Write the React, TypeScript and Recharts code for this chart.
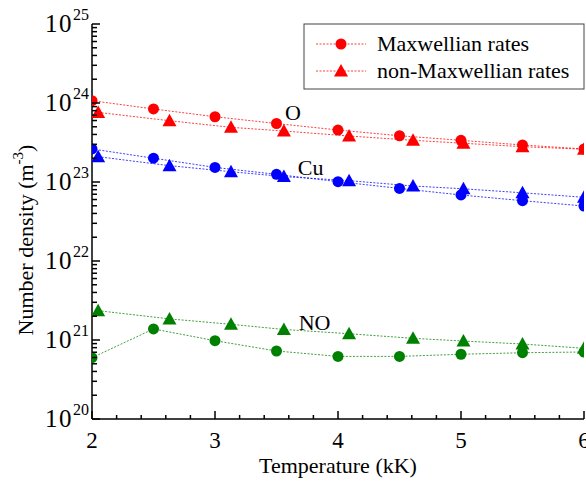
import React from 'react';
import { LineChart, Line, XAxis, YAxis, ReferenceDot } from 'recharts';

const tempsMax = [2, 2.5, 3, 3.5, 4, 4.5, 5, 5.5, 6];
const tempsNon = [2.05, 2.63, 3.13, 3.56, 4.09, 4.61, 5.02, 5.5, 6];

const oMax = [1.07e24, 8.4e23, 6.7e23, 5.5e23, 4.55e23, 3.85e23, 3.37e23, 2.94e23, 2.62e23];
const oNon = [7.6e23, 5.97e23, 4.92e23, 4.42e23, 3.82e23, 3.37e23, 3.09e23, 2.8e23, 2.6e23];
const cuMax = [2.62e23, 2.0e23, 1.53e23, 1.25e23, 1.01e23, 8.3e22, 6.85e22, 5.8e22, 4.97e22];
const cuNon = [2.09e23, 1.61e23, 1.35e23, 1.17e23, 1.04e23, 8.9e22, 8.2e22, 7.3e22, 6.4e22];
const noMax = [5.97e20, 1.38e21, 9.8e20, 7.26e20, 6.2e20, 6.2e20, 6.6e20, 6.9e20, 7.05e20];
const noNon = [2.35e21, 1.85e21, 1.58e21, 1.36e21, 1.2e21, 1.05e21, 9.7e20, 8.9e20, 7.85e20];

const xTicks = [2, 2.2, 2.4, 2.6, 2.8, 3, 3.2, 3.4, 3.6, 3.8, 4, 4.2, 4.4, 4.6, 4.8, 5, 5.2, 5.4, 5.6, 5.8, 6];
const yDecades = [20, 21, 22, 23, 24];
const yMantissas = [1, 2, 3, 4, 5, 6, 7, 8, 9];
const yTicks: number[] = [];
yDecades.forEach((d) => yMantissas.forEach((m) => yTicks.push(m * Math.pow(10, d))));
yTicks.push(1e25);

const legendLabels = ['Maxwellian rates', 'non-Maxwellian rates'];
const speciesLabels = [
  { text: 'O', t: 3.634, v: 7.7e23 },
  { text: 'Cu', t: 3.778, v: 1.55e23 },
  { text: 'NO', t: 3.81, v: 1.69e21 },
];

const build = (ts: number[], vs: number[]) => ts.map((t, i) => ({ t, v: vs[i] }));

const FONT = "'Liberation Serif', 'Times New Roman', serif";
const RED = '#ff0000';
const BLUE = '#0000ff';
const GREEN = '#008000';

const isMajorX = (v: number) => Math.abs(v - Math.round(v)) < 1e-6;
const isMajorY = (v: number) => {
  const e = Math.log10(v);
  return Math.abs(e - Math.round(e)) < 1e-6;
};

const BottomTick = (props: any) => {
  const { x, y, payload } = props;
  const major = isMajorX(payload.value);
  return (
    <g>
      <line x1={x} x2={x} y1={y} y2={y - (major ? 8 : 4)} stroke="#000" strokeWidth={1.5} />
      {major && (
        <text x={x} y={y + 29} textAnchor="middle" fontSize={23} fontFamily={FONT} fill="#000">
          {Math.round(payload.value)}
        </text>
      )}
    </g>
  );
};

const TopTick = (props: any) => {
  const { x, y, payload } = props;
  const major = isMajorX(payload.value);
  return <line x1={x} x2={x} y1={y} y2={y + (major ? 8 : 4)} stroke="#000" strokeWidth={1.5} />;
};

const LeftTick = (props: any) => {
  const { x, y, payload } = props;
  const major = isMajorY(payload.value);
  const e = Math.round(Math.log10(payload.value));
  return (
    <g>
      <line x1={x} x2={x + (major ? 8 : 5)} y1={y} y2={y} stroke="#000" strokeWidth={1.5} />
      {major && (
        <text x={x - 3} y={y + 8} textAnchor="end" fontSize={25} fontFamily={FONT} fill="#000" letterSpacing={1.5}>
          10
          <tspan dy={-12} fontSize={16} letterSpacing={0}>{e}</tspan>
        </text>
      )}
    </g>
  );
};

const RightTick = (props: any) => {
  const { x, y, payload } = props;
  const major = isMajorY(payload.value);
  return <line x1={x} x2={x - (major ? 8 : 5)} y1={y} y2={y} stroke="#000" strokeWidth={1.5} />;
};

const triangleDot = (color: string) => (props: any) => {
  const { cx, cy } = props;
  if (cx == null || cy == null) return <g key={`n-${Math.random()}`} />;
  return (
    <path
      key={`tri-${color}-${cx}-${cy}`}
      d={`M${cx},${cy - 7}L${cx + 7},${cy + 5.5}L${cx - 7},${cy + 5.5}Z`}
      fill={color}
    />
  );
};

const circleDot = (color: string) => ({ r: 5.5, fill: color, stroke: color, strokeWidth: 0 });

const lineStyle = { strokeWidth: 1, strokeDasharray: '2 1.5', strokeOpacity: 0.75 };

const YTitle = () => (
  <text
    transform="translate(33,240) rotate(-90)"
    textAnchor="middle"
    fontSize={22}
    fontFamily={FONT}
    fill="#000"
  >
    Number density (m
    <tspan dy={-10} fontSize={15}>-3</tspan>
    <tspan dy={10}>)</tspan>
  </text>
);

export default function App() {
  const oMaxData = build(tempsMax, oMax);
  const oNonData = build(tempsNon, oNon);
  const cuMaxData = build(tempsMax, cuMax);
  const cuNonData = build(tempsNon, cuNon);
  const noMaxData = build(tempsMax, noMax);
  const noNonData = build(tempsNon, noNon);

  return (
    <div style={{ position: 'absolute', left: 0, top: 0, width: 586, height: 487, background: '#fff' }}>
      <LineChart width={586} height={487} margin={{ top: 24, right: 2, left: 0, bottom: 0 }}>
        <XAxis
          dataKey="t"
          type="number"
          domain={[2, 6]}
          ticks={xTicks}
          interval={0}
          allowDataOverflow
          height={68}
          tickSize={0}
          tickMargin={0}
          tickLine={false}
          axisLine={{ stroke: '#000', strokeWidth: 1.5 }}
          tick={<BottomTick />}
          label={{ value: 'Temperature (kK)', position: 'insideBottom', offset: 14, fontSize: 22, fontFamily: FONT, fill: '#000' }}
        />
        <XAxis
          xAxisId="top"
          orientation="top"
          dataKey="t"
          type="number"
          domain={[2, 6]}
          ticks={xTicks}
          interval={0}
          allowDataOverflow
          height={0}
          tickSize={0}
          tickMargin={0}
          tickLine={false}
          axisLine={{ stroke: '#000', strokeWidth: 1.5 }}
          tick={<TopTick />}
        />
        <YAxis
          type="number"
          scale="log"
          domain={[1e20, 1e25]}
          ticks={yTicks}
          interval={0}
          allowDataOverflow
          width={92}
          tickSize={0}
          tickMargin={0}
          tickLine={false}
          axisLine={{ stroke: '#000', strokeWidth: 1.5 }}
          tick={<LeftTick />}
          label={{ content: () => <YTitle /> }}
        />
        <YAxis
          yAxisId="right"
          orientation="right"
          type="number"
          scale="log"
          domain={[1e20, 1e25]}
          ticks={yTicks}
          interval={0}
          allowDataOverflow
          width={0}
          tickSize={0}
          tickMargin={0}
          tickLine={false}
          axisLine={{ stroke: '#000', strokeWidth: 1.5 }}
          tick={<RightTick />}
        />
        <Line data={oMaxData} dataKey="v" stroke={RED} {...lineStyle} dot={circleDot(RED)} activeDot={false} isAnimationActive={false} />
        <Line data={oNonData} dataKey="v" stroke={RED} {...lineStyle} dot={triangleDot(RED)} activeDot={false} isAnimationActive={false} />
        <Line data={cuMaxData} dataKey="v" stroke={BLUE} {...lineStyle} dot={circleDot(BLUE)} activeDot={false} isAnimationActive={false} />
        <Line data={cuNonData} dataKey="v" stroke={BLUE} {...lineStyle} dot={triangleDot(BLUE)} activeDot={false} isAnimationActive={false} />
        <Line data={noMaxData} dataKey="v" stroke={GREEN} {...lineStyle} dot={circleDot(GREEN)} activeDot={false} isAnimationActive={false} />
        <Line data={noNonData} dataKey="v" stroke={GREEN} {...lineStyle} dot={triangleDot(GREEN)} activeDot={false} isAnimationActive={false} />
        {speciesLabels.map((s) => (
          <ReferenceDot
            key={s.text}
            x={s.t}
            y={s.v}
            r={0}
            fill="none"
            stroke="none"
            ifOverflow="visible"
            label={{ value: s.text, position: 'center', fontSize: 22, fontFamily: FONT, fill: '#000' }}
          />
        ))}
      </LineChart>
      <svg width={586} height={487} style={{ position: 'absolute', left: 0, top: 0, pointerEvents: 'none' }}>
        <rect x={304} y={24} width={280} height={65} fill="#fff" stroke="#444" strokeWidth={1} />
        {legendLabels.map((lab, i) => {
          const ry = 44 + i * 27;
          return (
            <g key={lab}>
              <line x1={316} x2={366} y1={ry} y2={ry} stroke={RED} strokeWidth={1} strokeDasharray="2 1.5" strokeOpacity={0.75} />
              {i === 0 ? (
                <circle cx={341} cy={ry} r={5.5} fill={RED} />
              ) : (
                <path d={`M341,${ry - 7}L348,${ry + 5.5}L334,${ry + 5.5}Z`} fill={RED} />
              )}
              <text x={377} y={ry + 7} fontSize={22} fontFamily={FONT} fill="#000">
                {lab}
              </text>
            </g>
          );
        })}
      </svg>
    </div>
  );
}
